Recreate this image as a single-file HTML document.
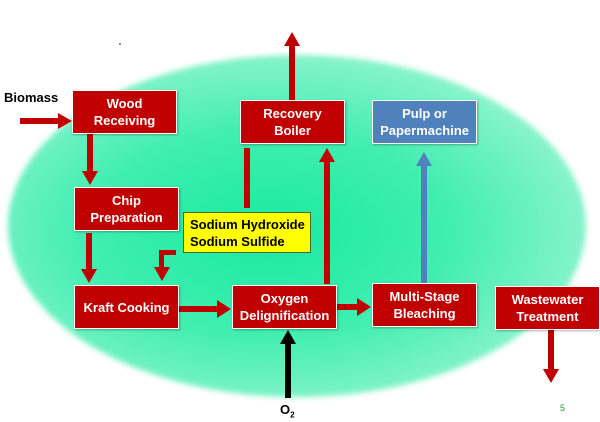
<!DOCTYPE html>
<html><head><style>
body{margin:0;width:600px;height:422px;overflow:hidden;background:#fff;position:relative;font-family:"Liberation Sans",sans-serif}
.bg{position:absolute;left:8px;top:55px;width:578px;height:342px;border-radius:50%;background:radial-gradient(ellipse at 45% 52%,#18eaa0 0%,#40eeb0 40%,#90f4d0 75%,#e8fcf5 100%);filter:blur(3px)}
.b{position:absolute;background:#c00000;color:#fff;font-weight:bold;font-size:13px;text-align:center;display:flex;align-items:center;justify-content:center;line-height:17px;border:1px solid #fff;box-shadow:1px 1px 2px rgba(0,0,0,.3)}
svg{position:absolute;left:0;top:0}
</style></head><body>
<div class="bg"></div>
<svg width="600" height="422">
<g fill="#c00000" stroke="none">
<rect x="20" y="118" width="38" height="6"/><polygon points="58,113 72,121 58,129"/>
<rect x="87" y="133" width="6" height="38"/><polygon points="82,171 98,171 90,185"/>
<rect x="86" y="233" width="6" height="36"/><polygon points="81,269 97,269 89,283"/>
<rect x="159" y="250" width="17" height="5"/><rect x="159" y="250" width="5" height="17"/><polygon points="154,267 170,267 162,281"/>
<rect x="244" y="148" width="6" height="60"/>
<rect x="177" y="306" width="40" height="6"/><polygon points="217,300 231,309 217,318"/>
<rect x="324" y="162" width="6" height="122"/><polygon points="319,162 335,162 327,148"/>
<rect x="336" y="304" width="22" height="6"/><polygon points="357,298 371,307 357,316"/>
<rect x="289" y="46" width="6" height="54"/><polygon points="284,46 300,46 292,32"/>
<rect x="548" y="329" width="6" height="40"/><polygon points="543,369 559,369 551,383"/>
</g>
<rect x="421" y="166" width="6" height="117" fill="#4f81bd"/><polygon points="416,166 432,166 424,152" fill="#4f81bd"/>
<rect x="285" y="344" width="6" height="54" fill="#000"/><polygon points="280,344 296,344 288,330" fill="#000"/>
<circle cx="120" cy="44" r="0.8" fill="#000"/>
</svg>
<div style="position:absolute;left:4px;top:90px;font-weight:bold;font-size:13px">Biomass</div>
<div class="b" style="left:72px;top:90px;width:103px;height:42px">Wood<br>Receiving</div>
<div class="b" style="left:74px;top:187px;width:103px;height:42px">Chip<br>Preparation</div>
<div class="b" style="left:74px;top:285px;width:103px;height:42px">Kraft Cooking</div>
<div class="b" style="left:232px;top:285px;width:103px;height:42px">Oxygen<br>Delignification</div>
<div class="b" style="left:240px;top:100px;width:103px;height:42px">Recovery<br>Boiler</div>
<div class="b" style="left:372px;top:100px;width:103px;height:42px;background:#4f81bd">Pulp or<br>Papermachine</div>
<div class="b" style="left:372px;top:283px;width:103px;height:42px">Multi-Stage<br>Bleaching</div>
<div class="b" style="left:495px;top:286px;width:103px;height:42px">Wastewater<br>Treatment</div>
<div style="position:absolute;left:183px;top:212px;width:128px;height:41px;background:#ffff00;border:1px solid #4a6a30;font-weight:bold;font-size:13px;line-height:17px;padding:3px 0 0 6px;box-sizing:border-box">Sodium Hydroxide<br>Sodium Sulfide</div>
<div style="position:absolute;left:280px;top:402px;font-weight:bold;font-size:13px">O<sub style="font-size:8px">2</sub></div>
<div style="position:absolute;left:560px;top:403px;font-size:9px;color:#2a9a2a">5</div>
</body></html>
